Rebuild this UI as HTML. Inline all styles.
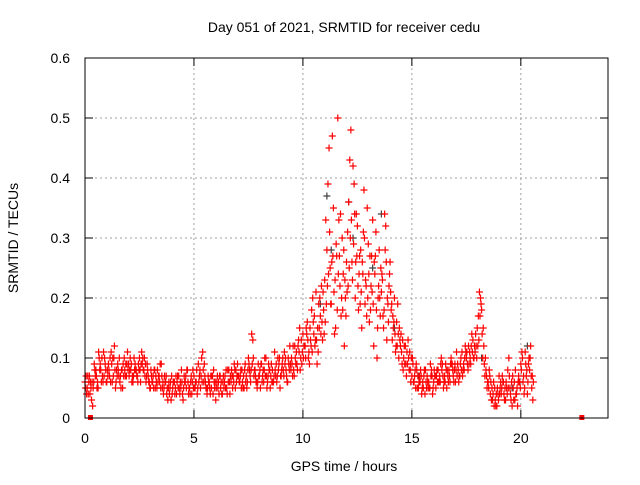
<!DOCTYPE html>
<html><head><meta charset="utf-8"><style>
body{margin:0;background:#fff}
svg text{font-family:"Liberation Sans",sans-serif;font-size:14px;fill:#000}
</style></head><body>
<svg id="chart" width="640" height="480" viewBox="0 0 640 480" xmlns="http://www.w3.org/2000/svg">
<rect width="640" height="480" fill="#fff"/>
<text x="344" y="32" text-anchor="middle">Day 051 of 2021, SRMTID for receiver cedu</text>
<text x="344" y="471" text-anchor="middle">GPS time / hours</text>
<text transform="translate(18,238) rotate(-90)" text-anchor="middle">SRMTID / TECUs</text>
<g id="grid"></g>
<g id="ticks"></g>
<g id="marks"></g>
<rect x="85" y="58" width="523" height="360" fill="none" stroke="#000" stroke-width="1"/>
</svg>
<script>
const xTicks=[0,5,10,15,20];
const yTicks=[0,0.1,0.2,0.3,0.4,0.5,0.6];
const yTickLabels=["0","0.1","0.2","0.3","0.4","0.5","0.6"];
const tecA=[0.06,0.05,0.07,0.03,0.06,0.08,0.05,0.09,0.07,0.10,0.06,
0.08,0.11,0.07,0.05,0.09,0.06,0.08,0.10,0.07,0.09,
0.08,0.06,0.09,0.07,0.10,0.11,0.08,0.06,0.07,0.05,
0.06,0.08,0.05,0.07,0.09,0.04,0.06,0.03,0.05,0.04,
0.06,0.04,0.07,0.05,0.03,0.06,0.08,0.05,0.04,0.07,
0.06,0.09,0.05,0.11,0.07,0.04,0.06,0.05,0.08,0.03,
0.05,0.07,0.04,0.06,0.05,0.08,0.06,0.07,0.05,0.09,
0.06,0.08,0.05,0.07,0.10,0.06,0.13,0.08,0.05,0.07,
0.09,0.06,0.10,0.07,0.05,0.08,0.11,0.06,0.09,0.07,
0.08,0.10,0.06,0.12,0.09,0.07,0.11,0.13,0.10,0.14,
0.12,0.16,0.09,0.18,0.14,0.21,0.11,0.17,0.13,0.23,
0.28,0.45,0.19,0.35,0.15,0.50,0.22,0.30,0.12,0.26,
0.36,0.48,0.42,0.20,0.32,0.27,0.15,0.38,0.22,0.29,
0.18,0.33,0.24,0.10,0.28,0.21,0.15,0.32,0.19,0.26,
0.13,0.20,0.16,0.10,0.14,0.08,0.12,0.09,0.11,0.07,
0.06,0.09,0.05,0.08,0.06,0.04,0.07,0.05,0.08,0.06,
0.05,0.08,0.06,0.09,0.07,0.05,0.08,0.10,0.07,0.06,
0.09,0.07,0.11,0.08,0.10,0.12,0.09,0.13,0.11,0.15,
0.21,0.18,0.12,0.08,0.06,0.04,0.03,0.05,0.02,0.07,
0.04,0.06,0.03,0.08,0.05,0.02,0.06,0.04,0.07,0.09,
0.06,0.11,0.04,0.08,0.05];
const tecB=[0.07,0.04,0.06,0.02,0.08,0.05,0.10,0.06,0.11,0.08,0.07,
0.10,0.06,0.12,0.08,0.07,0.05,0.09,0.07,0.11,0.08,
0.06,0.10,0.08,0.09,0.06,0.10,0.07,0.09,0.06,0.07,
0.05,0.07,0.06,0.09,0.05,0.07,0.04,0.06,0.03,0.06,
0.05,0.07,0.04,0.06,0.07,0.05,0.04,0.06,0.08,0.05,
0.04,0.07,0.10,0.06,0.05,0.07,0.04,0.07,0.05,0.06,
0.04,0.06,0.07,0.05,0.08,0.04,0.07,0.09,0.06,0.07,
0.08,0.05,0.09,0.06,0.08,0.14,0.07,0.06,0.09,0.05,
0.07,0.10,0.05,0.08,0.09,0.06,0.07,0.10,0.05,0.09,
0.11,0.07,0.09,0.08,0.12,0.10,0.08,0.15,0.09,0.12,
0.15,0.10,0.13,0.20,0.12,0.09,0.15,0.22,0.18,0.33,
0.39,0.25,0.47,0.14,0.27,0.33,0.17,0.24,0.20,0.31,
0.43,0.26,0.39,0.34,0.18,0.28,0.24,0.19,0.35,0.16,
0.27,0.12,0.31,0.20,0.17,0.23,0.34,0.13,0.22,0.18,
0.15,0.11,0.19,0.13,0.09,0.12,0.07,0.10,0.06,0.09,
0.08,0.05,0.07,0.04,0.07,0.06,0.05,0.09,0.04,0.07,
0.08,0.06,0.10,0.05,0.09,0.07,0.06,0.09,0.08,0.11,
0.06,0.10,0.08,0.12,0.09,0.11,0.14,0.10,0.12,0.17,
0.20,0.10,0.07,0.05,0.08,0.03,0.06,0.02,0.04,0.05,
0.07,0.03,0.05,0.10,0.03,0.05,0.08,0.02,0.06,0.11,
0.04,0.07,0.09,0.12,0.03];
const tecC=[0.05,0.07,0.04,0.06,0.09,0.07,0.11,0.08,0.06,0.09,0.08,
0.07,0.09,0.10,0.06,0.08,0.07,0.05,0.08,0.09,0.07,
0.09,0.07,0.08,0.06,0.08,0.09,0.10,0.07,0.06,0.08,
0.07,0.05,0.08,0.06,0.07,0.05,0.07,0.05,0.06,0.05,
0.04,0.06,0.05,0.08,0.05,0.07,0.06,0.04,0.06,0.05,
0.08,0.06,0.07,0.08,0.06,0.05,0.05,0.07,0.06,0.05,
0.06,0.05,0.06,0.07,0.04,0.06,0.08,0.06,0.08,0.07,
0.07,0.06,0.08,0.05,0.09,0.08,0.10,0.07,0.06,0.08,
0.06,0.08,0.07,0.09,0.07,0.06,0.08,0.07,0.10,0.08,
0.07,0.08,0.10,0.09,0.07,0.12,0.09,0.11,0.13,0.10,
0.10,0.13,0.15,0.11,0.17,0.13,0.19,0.14,0.21,0.16,
0.22,0.31,0.26,0.21,0.29,0.24,0.34,0.18,0.23,0.21,
0.25,0.33,0.29,0.26,0.22,0.19,0.26,0.30,0.17,0.24,
0.22,0.19,0.27,0.15,0.20,0.24,0.18,0.26,0.16,0.21,
0.17,0.14,0.12,0.15,0.11,0.10,0.09,0.13,0.08,0.10,
0.07,0.08,0.06,0.07,0.05,0.08,0.06,0.05,0.07,0.08,
0.07,0.06,0.09,0.07,0.06,0.08,0.07,0.09,0.06,0.08,
0.08,0.09,0.07,0.10,0.11,0.09,0.12,0.10,0.14,0.12,
0.17,0.14,0.09,0.07,0.05,0.06,0.04,0.03,0.05,0.04,
0.05,0.04,0.06,0.05,0.04,0.07,0.03,0.05,0.06,0.08,
0.07,0.09,0.06,0.10,0.07];
const tecD=[0.04,0.06,0.05,0.05,0.07,0.06,0.08,0.10,0.07,0.06,0.09,
0.06,0.10,0.08,0.07,0.10,0.08,0.07,0.09,0.08,0.10,
0.07,0.08,0.07,0.08,0.09,0.08,0.09,0.08,0.05,0.06,
0.08,0.06,0.07,0.05,0.06,0.06,0.05,0.04,0.07,0.06,
0.07,0.05,0.06,0.04,0.06,0.08,0.05,0.07,0.05,0.06,
0.05,0.08,0.06,0.09,0.05,0.06,0.07,0.04,0.06,0.07,
0.07,0.04,0.05,0.08,0.06,0.07,0.05,0.08,0.07,0.06,
0.05,0.07,0.06,0.08,0.07,0.09,0.08,0.06,0.07,0.09,
0.08,0.07,0.06,0.08,0.06,0.07,0.09,0.08,0.07,0.10,
0.09,0.06,0.08,0.10,0.08,0.09,0.12,0.08,0.11,0.12,
0.14,0.11,0.12,0.16,0.13,0.15,0.20,0.16,0.14,0.19,
0.24,0.19,0.27,0.23,0.18,0.27,0.20,0.28,0.17,0.22,
0.30,0.23,0.34,0.27,0.24,0.21,0.31,0.23,0.20,0.27,
0.21,0.26,0.18,0.22,0.25,0.17,0.28,0.20,0.24,0.19,
0.16,0.12,0.14,0.12,0.13,0.09,0.11,0.08,0.10,0.06,
0.05,0.07,0.06,0.05,0.08,0.05,0.06,0.07,0.05,0.07,
0.06,0.07,0.08,0.06,0.08,0.06,0.09,0.08,0.09,0.07,
0.07,0.08,0.09,0.11,0.08,0.10,0.11,0.12,0.10,0.13,
0.19,0.15,0.10,0.06,0.07,0.05,0.02,0.04,0.03,0.06,
0.06,0.05,0.04,0.07,0.06,0.03,0.04,0.06,0.05,0.10,
0.05,0.08,0.10,0.07,0.06];
const grayHours=[10.8,11.1,11.3,12.1,12.3,13.2,13.6,14.2,15.3,18.2,19.6,20.3];
const grayVals=[0.19,0.37,0.28,0.36,0.30,0.25,0.34,0.15,0.07,0.10,0.05,0.12];
const sqHours=[0.25,22.8];
const sqVals=[0,0];

const X=h=>85+h*(523/24);
const Y=v=>418-v*600;
const NS="http://www.w3.org/2000/svg";
const grid=document.getElementById('grid'),ticks=document.getElementById('ticks'),marks=document.getElementById('marks');
function line(g,x1,y1,x2,y2,st,dash){const l=document.createElementNS(NS,'line');l.setAttribute('x1',x1);l.setAttribute('y1',y1);l.setAttribute('x2',x2);l.setAttribute('y2',y2);l.setAttribute('stroke',st);if(dash)l.setAttribute('stroke-dasharray',dash);g.appendChild(l);return l;}
function txt(x,y,s,anchor){const t=document.createElementNS(NS,'text');t.setAttribute('x',x);t.setAttribute('y',y);t.setAttribute('text-anchor',anchor);t.textContent=s;ticks.appendChild(t);return t;}
xTicks.forEach(v=>{const x=X(v);
 if(v>0){const g=line(grid,x,58,x,418,'#a0a0a0','2,3');}
 line(ticks,x,418,x,410,'#000');line(ticks,x,58,x,66,'#000');
 const t=txt(x,443,String(v),'middle');
 
 });
yTicks.forEach((v,i)=>{const y=Y(v);
 if(v>0&&v<0.6){const g=line(grid,85,y,608,y,'#a0a0a0','2,3');}
 line(ticks,85,y,93,y,'#000');line(ticks,608,y,600,y,'#000');
 const t=txt(70,y+5,yTickLabels[i],'end');
 
 });
function cross(h,v,col){const x=X(h),y=Y(v);const g=document.createElementNS(NS,'path');
 g.setAttribute('d',`M${x-3.5},${y}H${x+3.5}M${x},${y-3.5}V${y+3.5}`);g.setAttribute('stroke',col);g.setAttribute('stroke-width','1.2');
 
 
 marks.appendChild(g);}
grayHours.forEach((h,i)=>cross(h,grayVals[i],'#404040'));
tecA.forEach((v,i)=>cross(i*0.1,v,'#ff0000'));
tecC.forEach((v,i)=>cross(0.025+i*0.1,v,'#ff0000'));
tecB.forEach((v,i)=>cross(0.05+i*0.1,v,'#ff0000'));
tecD.forEach((v,i)=>cross(0.075+i*0.1,v,'#ff0000'));
sqHours.forEach((h,i)=>{const r=document.createElementNS(NS,'rect');r.setAttribute('x',X(h)-2.5);r.setAttribute('y',Y(sqVals[i])-3);r.setAttribute('width',5);r.setAttribute('height',5);r.setAttribute('fill','#ff0000');
 
 
 marks.appendChild(r);});
</script>
</body></html>
